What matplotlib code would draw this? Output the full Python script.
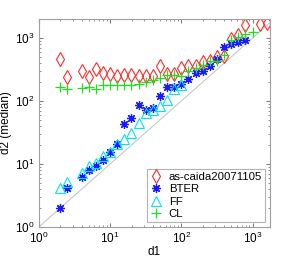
import numpy as np
import matplotlib
matplotlib.use('Agg')
import matplotlib.pyplot as plt

plt.rcParams['font.family'] = ['Liberation Sans', 'DejaVu Sans']

# log10 of d1 bin centres (bins of 0.1 decade)
caida_logx = [0.3, 0.4, 0.6, 0.7, 0.8, 0.9, 1.0, 1.1, 1.2, 1.3, 1.4, 1.5, 1.6, 1.7,
              1.8, 1.9, 2.0, 2.1, 2.2, 2.3, 2.4, 2.5, 2.6, 2.7, 2.8, 2.9, 3.1, 3.2]
caida_d2 = [466, 240, 299, 236, 316, 274, 268, 247, 258, 258, 247, 247, 245, 356,
            265, 265, 338, 364, 364, 421, 428, 495, 525, 971, 1125, 1625, 1643, 1750]

bter_logx = [0.3, 0.4, 0.6, 0.7, 0.8, 0.9, 1.0, 1.1, 1.2, 1.3, 1.4, 1.5, 1.6, 1.7,
             1.8, 1.9, 2.0, 2.1, 2.2, 2.3, 2.4, 2.5, 2.6, 2.7, 2.8, 2.9]
bter_d2 = [2, 4.1, 6.25, 8.0, 9.4, 11.5, 15.6, 21, 43, 54.5, 85.7, 73, 76.7, 118,
           166, 166, 185, 223, 276, 303, 360, 460, 723, 793, 860, 935]

ff_logx = [0.3, 0.4, 0.6, 0.7, 0.8, 0.9, 1.0, 1.1, 1.2, 1.3, 1.4, 1.5, 1.6, 1.7,
           1.8, 1.9, 2.0]
ff_d2 = [4.2, 5.2, 7.2, 9.3, 10.4, 13.3, 15.4, 20.4, 25, 31.4, 45.4, 64.5, 73, 83.5,
         105, 157, 176]

cl_logx = [0.3, 0.4, 0.6, 0.7, 0.8, 0.9, 1.0, 1.1, 1.2, 1.3, 1.4, 1.5, 1.6, 1.7,
           1.8, 1.9, 2.0, 2.1, 2.2, 2.3, 2.4, 2.5, 2.6, 2.7, 2.8, 2.9, 3.0]
cl_d2 = [164, 154, 160, 169, 154, 176, 182, 176, 179, 176, 185, 200, 219, 234,
         254, 258, 245, 303, 328, 369, 437, 425, 530, 919, 1030, 1153, 1233]

labels = ['as-caida20071105', 'BTER', 'FF', 'CL']

fig = plt.figure(figsize=(2.99, 2.57), dpi=100)
ax = fig.add_axes([0.130, 0.117, 0.773, 0.809])

ax.plot([1, 2000], [1, 2000], color='#c8c8c8', lw=0.8, zorder=1)

ax.plot(10 ** np.array(caida_logx), caida_d2, ls='none', marker='d', ms=7.5,
        mfc='none', mec='#ff2a2a', mew=0.8, label=labels[0])
ax.plot(10 ** np.array(bter_logx), bter_d2, ls='none', marker=(8, 2, 0), ms=6.5,
        mec='#1a1aff', mew=0.9, label=labels[1])
ax.plot(10 ** np.array(ff_logx), ff_d2, ls='none', marker='^', ms=7,
        mfc='none', mec='#00e5ee', mew=0.8, label=labels[2])
ax.plot(10 ** np.array(cl_logx), cl_d2, ls='none', marker='+', ms=7,
        mec='#22dd22', mew=0.9, label=labels[3])

ax.set_xscale('log')
ax.set_yscale('log')
ax.set_xlim(1, 1755)
ax.set_ylim(1, 2000)
ax.set_xlabel('d1', fontsize=8.5, labelpad=0)
ax.set_ylabel('d2 (median)', fontsize=8.5, labelpad=2)

for s in ax.spines.values():
    s.set_color('#a0a0a0')
    s.set_linewidth(0.8)
ax.tick_params(which='both', direction='in', top=True, right=True,
               color='#808080', labelsize=8.5)
ax.tick_params(axis='x', pad=3)
ax.tick_params(axis='y', pad=3)
ax.tick_params(which='major', length=3)
ax.tick_params(which='minor', length=1.6)

leg = ax.legend(loc='lower right', fontsize=8.2, frameon=True, fancybox=False,
                handlelength=1.0, handletextpad=0.6, borderpad=0.3,
                labelspacing=0.2, borderaxespad=0.4)
leg.get_frame().set_edgecolor('#a0a0a0')
leg.get_frame().set_linewidth(0.8)

fig.savefig('out.png', dpi=100)
